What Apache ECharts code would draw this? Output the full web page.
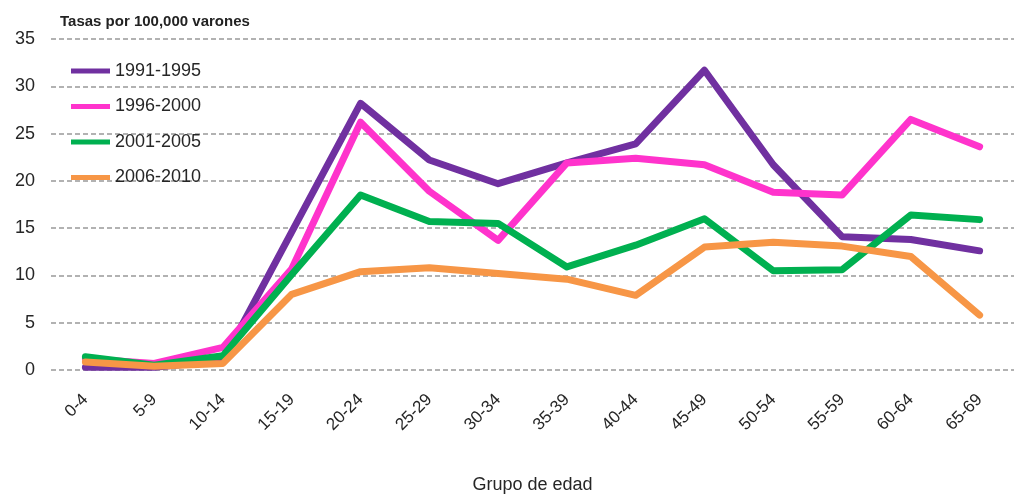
<!DOCTYPE html>
<html>
<head>
<meta charset="utf-8">
<script src="https://cdn.jsdelivr.net/npm/echarts@6/dist/echarts.min.js"></script>
<style>
  html, body { margin: 0; padding: 0; background: #fff; }
  #chart { width: 1021px; height: 494px; }
</style>
</head>
<body>
<div id="chart"></div>
<script>
// grupos de edad
var categories = ['0-4', '5-9', '10-14', '15-19', '20-24', '25-29', '30-34',
                  '35-39', '40-44', '45-49', '50-54', '55-59', '60-64', '65-69'];
var yTicks = [0, 5, 10, 15, 20, 25, 30, 35];

var s1991 = [0.3, 0.3, 1.0, 14.6, 28.2, 22.2, 19.7, 21.9, 23.9, 31.7, 21.7, 14.1, 13.8, 12.6];
var s1996 = [1.2, 0.7, 2.4, 10.7, 26.2, 18.9, 13.7, 21.9, 22.4, 21.7, 18.8, 18.5, 26.5, 23.6];
var s2001 = [1.4, 0.5, 1.5, 10.1, 18.5, 15.7, 15.5, 10.9, 13.2, 16.0, 10.5, 10.6, 16.4, 15.9];
var s2006 = [0.85, 0.4, 0.7, 8.0, 10.4, 10.8, 10.2, 9.6, 7.9, 13.0, 13.5, 13.1, 12.0, 5.8];

var seriesNames = ['1991-1995', '1996-2000', '2001-2005', '2006-2010'];
var colors = ['#7030A0', '#FF33CC', '#00B050', '#F79646'];

var chart = echarts.init(document.getElementById('chart'));

function mkLine(name, data) {
    return {
        name: name,
        type: 'line',
        data: data,
        symbol: 'none',
        lineStyle: { width: 7, cap: 'round', join: 'round' }
    };
}

chart.setOption({
    animation: false,
    color: colors,
    textStyle: { fontFamily: 'Liberation Sans, Arial, sans-serif' },
    title: {
        text: 'Tasas por 100,000 varones',
        left: 55,
        top: 9,
        textStyle: { fontSize: 15, fontWeight: 'bold', color: '#222' }
    },
    legend: {
        orient: 'vertical',
        left: 66,
        top: 56,
        icon: 'rect',
        itemWidth: 39,
        itemHeight: 5,
        itemGap: 15.5,
        textStyle: { fontSize: 18, color: '#262626', lineHeight: 20 },
        data: seriesNames
    },
    grid: {
        left: 51,
        right: 7,
        top: 39,
        bottom: 124,
        outerBoundsMode: 'none',
        containLabel: false
    },
    xAxis: {
        type: 'category',
        data: categories,
        boundaryGap: true,
        axisLine: { show: false },
        axisTick: { show: false },
        axisLabel: { rotate: 45, fontSize: 17, color: '#262626', margin: 27 },
        name: 'Grupo de edad',
        nameLocation: 'middle',
        nameGap: 106,
        nameTextStyle: { fontSize: 18, color: '#262626' }
    },
    yAxis: {
        type: 'value',
        min: yTicks[0],
        max: yTicks[yTicks.length - 1],
        interval: 5,
        axisLine: { show: false },
        axisTick: { show: false },
        axisLabel: { fontSize: 18, color: '#262626', margin: 16 },
        splitLine: { lineStyle: { color: '#999', type: [5, 3], width: 1.5 } }
    },
    series: [
        mkLine(seriesNames[0], s1991),
        mkLine(seriesNames[1], s1996),
        mkLine(seriesNames[2], s2001),
        mkLine(seriesNames[3], s2006)
    ]
});
</script>
</body>
</html>
